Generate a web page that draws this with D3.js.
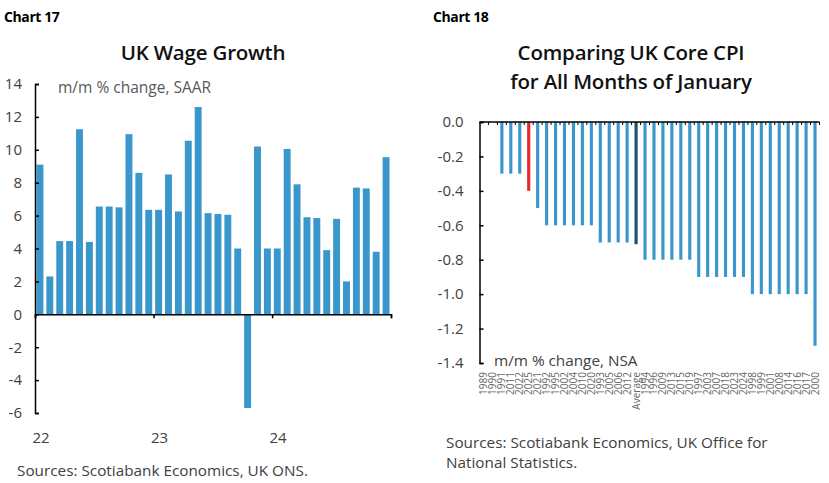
<!DOCTYPE html>
<html>
<head>
<meta charset="utf-8">
<script src="https://cdn.jsdelivr.net/npm/d3@7"></script>
<style>
  body { margin: 0; background: #fff; }
  text { font-family: "Open Sans", "Noto Sans", sans-serif; }
</style>
</head>
<body>
<svg id="chart" width="829" height="483"></svg>
<script>
// Chart 17: UK wage growth, monthly Jan-22 .. Dec-24
const wageMonths = d3.range(36).map(i => new Date(2022, i, 1));
const wageValues = [9.1, 2.3, 4.45, 4.45, 11.25, 4.4, 6.55, 6.55, 6.5, 10.95, 8.6, 6.35,
  6.35, 8.5, 6.25, 10.55, 12.6, 6.15, 6.1, 6.05, 4.0, -5.7, 10.2, 4.0,
  4.0, 10.05, 7.9, 5.9, 5.85, 3.9, 5.8, 2.0, 7.7, 7.65, 3.8, 9.55];
const wageTicks = [-6, -4, -2, 0, 2, 4, 6, 8, 10, 12, 14];
const wageYears = ["22", "23", "24"];

// Chart 18: UK core CPI, January m/m, sorted
const cpiCats = ["1989", "1990", "1991", "2011", "2022", "2025", "2021", "1992", "1995", "2002",
  "2004", "2010", "2020", "1993", "2005", "2006", "2012", "Average", "1994", "1996",
  "2009", "2013", "2015", "2019", "1997", "2003", "2007", "2018", "2023", "2024",
  "1998", "1999", "2001", "2008", "2014", "2016", "2017", "2000"];
const cpiValues = [0, 0, -0.3, -0.3, -0.3, -0.4, -0.5, -0.6, -0.6, -0.6,
  -0.6, -0.6, -0.6, -0.7, -0.7, -0.7, -0.7, -0.71, -0.8, -0.8,
  -0.8, -0.8, -0.8, -0.8, -0.9, -0.9, -0.9, -0.9, -0.9, -0.9,
  -1.0, -1.0, -1.0, -1.0, -1.0, -1.0, -1.0, -1.3];
const cpiTicks = [0, -0.2, -0.4, -0.6, -0.8, -1.0, -1.2, -1.4];

const blue = "#3a97cb", red = "#e8262d", navy = "#1f4e79", ink = "#404040";

const svg = d3.select("#chart");
svg.append("rect").attr("width", 829).attr("height", 483).attr("fill", "#fff");

function header(x, label) {
  svg.append("text").attr("x", x).attr("y", 22)
    .attr("font-size", 14).attr("font-weight", 700).attr("fill", "#000")
    .attr("letter-spacing", -0.4)
    .text(label);
}

function title(x, y, label) {
  svg.append("text").attr("x", x).attr("y", y).attr("text-anchor", "middle")
    .attr("font-size", 20.5).attr("font-weight", 600).attr("fill", "#111")
    .attr("letter-spacing", -0.2)
    .text(label);
}

// ---------- left chart ----------
header(4, "Chart 17");
title(203, 60, "UK Wage Growth");

const x1 = d3.scaleBand().domain(wageMonths.map(d => +d)).range([35, 391]).paddingInner(0.3).paddingOuter(0.15);
const y1 = d3.scaleLinear().domain([-6, 14]).range([413, 84]);

svg.append("g").selectAll("rect").data(wageValues).join("rect")
  .attr("x", (d, i) => x1(+wageMonths[i]))
  .attr("width", x1.bandwidth())
  .attr("y", d => y1(Math.max(0, d)))
  .attr("height", d => Math.abs(y1(d) - y1(0)))
  .attr("fill", blue);

const yAxis1 = svg.append("g").attr("transform", "translate(35,0)")
  .call(d3.axisLeft(y1).tickValues(wageTicks).tickSize(-4).tickPadding(13).tickFormat(d => String(d)));
yAxis1.select(".domain").attr("stroke", "#000").attr("stroke-width", 1.5);
yAxis1.selectAll(".tick line").attr("stroke", "#000").attr("stroke-width", 1.5);
yAxis1.selectAll(".tick text").attr("font-size", 15).attr("fill", ink)
  .attr("font-family", "'Open Sans', sans-serif");

// zero line with year ticks
const xTime = d3.scaleTime().domain([new Date(2022, 0, 1), new Date(2025, 0, 1)]).range([35, 391]);
const xAxis1 = svg.append("g").attr("transform", `translate(0,${y1(0)})`)
  .call(d3.axisBottom(xTime).tickValues([2022, 2023, 2024, 2025].map(y => new Date(y, 0, 1)))
    .tickSize(4).tickFormat(() => ""));
xAxis1.select(".domain").attr("stroke", "#000").attr("stroke-width", 1.5);
xAxis1.selectAll(".tick line").attr("stroke", "#000").attr("stroke-width", 1.5);

svg.append("g").selectAll("text").data(wageYears).join("text")
  .attr("x", (d, i) => xTime(new Date(2022 + i, 0, 1)) + 6)
  .attr("y", 443).attr("text-anchor", "middle")
  .attr("font-size", 15).attr("fill", ink)
  .text(d => d);

svg.append("text").attr("x", 58).attr("y", 93)
  .attr("font-size", 15.5).attr("fill", "#595959")
  .text("m/m % change, SAAR");

svg.append("text").attr("x", 17).attr("y", 476)
  .attr("font-size", 15.3).attr("fill", ink)
  .text("Sources: Scotiabank Economics, UK ONS.");

// ---------- right chart ----------
header(433, "Chart 18");
title(631, 60, "Comparing UK Core CPI");
title(631, 89, "for All Months of January");

const x2 = d3.scaleBand().domain(cpiCats).range([479.5, 819.5]).paddingInner(0.65).paddingOuter(0.325);
const y2 = d3.scaleLinear().domain([-1.4, 0]).range([363, 122]);

svg.append("g").selectAll("rect").data(cpiValues).join("rect")
  .attr("x", (d, i) => x2(cpiCats[i]))
  .attr("width", x2.bandwidth())
  .attr("y", y2(0))
  .attr("height", d => y2(d) - y2(0))
  .attr("fill", (d, i) => cpiCats[i] === "2025" ? red : cpiCats[i] === "Average" ? navy : blue);

const yAxis2 = svg.append("g").attr("transform", "translate(479.5,0)")
  .call(d3.axisLeft(y2).tickValues(cpiTicks).tickSize(-4).tickPadding(16).tickFormat(d => d.toFixed(1)));
yAxis2.select(".domain").attr("stroke", "#000").attr("stroke-width", 1.5);
yAxis2.selectAll(".tick line").attr("stroke", "#000").attr("stroke-width", 1.5);
yAxis2.selectAll(".tick text").attr("font-size", 15).attr("fill", ink)
  .attr("font-family", "'Open Sans', sans-serif");

// top zero line with category separators
const step = x2.step();
svg.append("line").attr("x1", 479.5).attr("x2", 819.5).attr("y1", y2(0)).attr("y2", y2(0))
  .attr("stroke", "#000").attr("stroke-width", 1.5);
svg.append("g").selectAll("line").data(cpiCats).join("line")
  .attr("x1", d => x2(d) + x2.bandwidth() / 2 + step / 2)
  .attr("x2", d => x2(d) + x2.bandwidth() / 2 + step / 2)
  .attr("y1", y2(0)).attr("y2", y2(0) + 3)
  .attr("stroke", "#000").attr("stroke-width", 1);

svg.append("g").selectAll("text").data(cpiCats).join("text")
  .attr("transform", d => `translate(${x2(d) + x2.bandwidth() / 2 + 3.5},372) rotate(-90)`)
  .attr("text-anchor", "end")
  .attr("font-size", 10).attr("fill", "#666")
  .text(d => d);

svg.append("text").attr("x", 494).attr("y", 366)
  .attr("font-size", 15.3).attr("fill", ink)
  .text("m/m % change, NSA");

svg.append("text").attr("x", 446).attr("y", 448)
  .attr("font-size", 15.3).attr("fill", ink)
  .text("Sources: Scotiabank Economics, UK Office for");
svg.append("text").attr("x", 446).attr("y", 468)
  .attr("font-size", 15.3).attr("fill", ink)
  .text("National Statistics.");
</script>
</body>
</html>
